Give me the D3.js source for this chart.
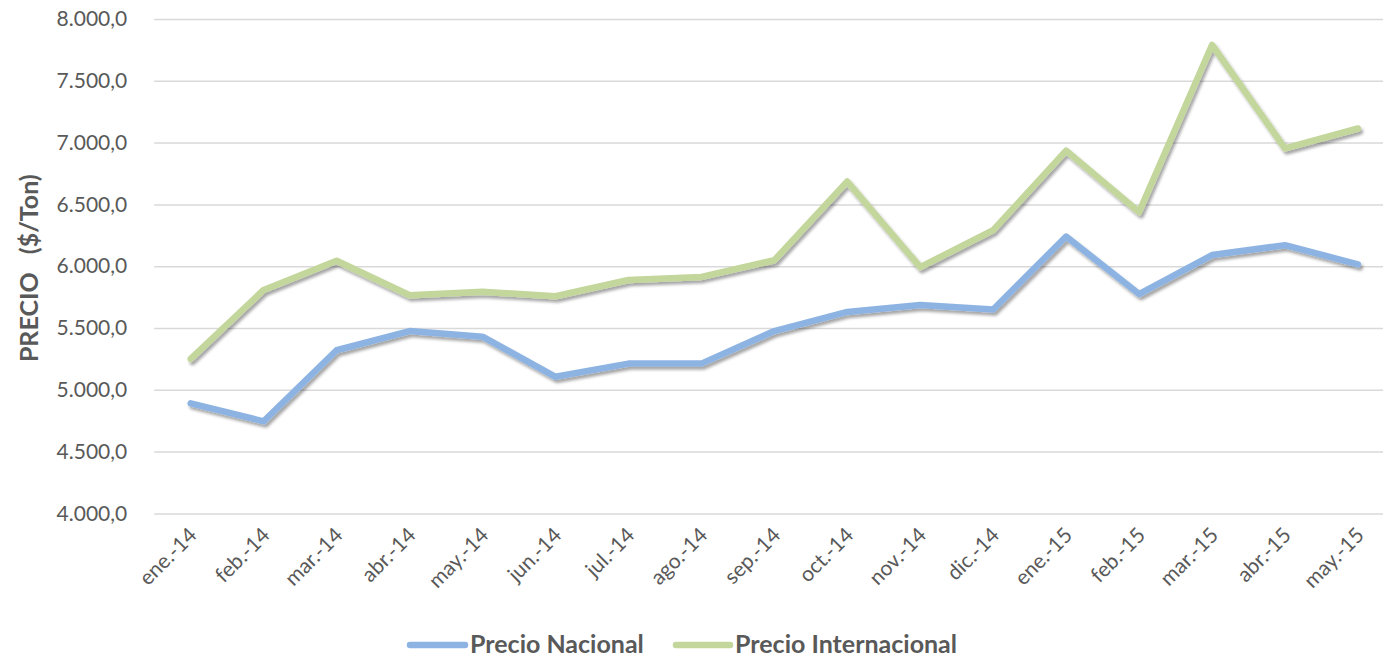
<!DOCTYPE html>
<html>
<head>
<meta charset="utf-8">
<script src="https://cdn.jsdelivr.net/npm/d3@7"></script>
<style>
  html, body { margin: 0; padding: 0; background: #fff; }
  svg { display: block; }
</style>
</head>
<body>
<svg id="chart" width="1383" height="658"></svg>
<script>
// ---- data ----
const categories = ["ene.-14","feb.-14","mar.-14","abr.-14","may.-14","jun.-14","jul.-14","ago.-14","sep.-14","oct.-14","nov.-14","dic.-14","ene.-15","feb.-15","mar.-15","abr.-15","may.-15"];
const precioNacional = [4890, 4745, 5320, 5475, 5430, 5105, 5212, 5212, 5475, 5630, 5686, 5650, 6240, 5775, 6090, 6170, 6015];
const precioInternacional = [5250, 5808, 6044, 5765, 5793, 5757, 5888, 5913, 6048, 6685, 5992, 6292, 6935, 6438, 7790, 6954, 7114];
const yTicks = [4000, 4500, 5000, 5500, 6000, 6500, 7000, 7500, 8000];
const seriesNames = ["Precio Nacional", "Precio Internacional"];
const seriesColors = ["#8db3e2", "#c3d69b"];
const yTitle = "PRECIO   ($/Ton)";

// ---- layout ----
const svg = d3.select("#chart");
const plotLeft = 154.2, plotRight = 1394.4, plotTop = 19, plotBottom = 513.4;
const textColor = "#595959";
const font = "Lato, 'Open Sans', sans-serif";

const x = d3.scalePoint().domain(categories).range([plotLeft, plotRight]).padding(0.5);
const y = d3.scaleLinear().domain([4000, 8000]).range([plotBottom, plotTop]);

const loc = d3.formatLocale({decimal: ",", thousands: ".", grouping: [3], currency: ["$", ""]});
const fmt = loc.format(",.1f");

// shadow filter
const defs = svg.append("defs");
const f = defs.append("filter").attr("id", "shadow").attr("x", "-5%").attr("y", "-20%").attr("width", "110%").attr("height", "140%");
f.append("feDropShadow").attr("dx", 2).attr("dy", 3).attr("stdDeviation", 1.6)
  .attr("flood-color", "#000").attr("flood-opacity", 0.35);

// gridlines + y axis
const yAxis = d3.axisLeft(y).tickValues(yTicks).tickFormat(fmt)
  .tickSize(-(1383 - plotLeft)).tickPadding(27);
const gy = svg.append("g").attr("transform", `translate(${plotLeft},0)`).call(yAxis);
gy.select(".domain").remove();
gy.selectAll(".tick line").attr("stroke", "#d9d9d9").attr("stroke-width", 1.5);
gy.selectAll(".tick text").attr("fill", textColor).style("font-family", font).style("font-size", "21px");

// x axis labels
const gx = svg.append("g").attr("transform", `translate(0,${plotBottom})`)
  .call(d3.axisBottom(x).tickSize(0).tickPadding(0));
gx.select(".domain").remove();
gx.selectAll(".tick text")
  .attr("fill", textColor).style("font-family", font).style("font-size", "21px")
  .attr("text-anchor", "end")
  .attr("dy", 0).attr("y", 0)
  .attr("transform", "translate(7,23) rotate(-45)");

// y title
svg.append("text")
  .attr("transform", `translate(38,${(plotTop + plotBottom) / 2 + 2}) rotate(-90)`)
  .attr("text-anchor", "middle")
  .attr("fill", textColor)
  .style("font-family", font).style("font-size", "25px").style("font-weight", "bold")
  .style("white-space", "pre")
  .attr("xml:space", "preserve")
  .text(yTitle);

// lines
const line = d3.line().x((d, i) => x(categories[i])).y(d => y(d));
[precioNacional, precioInternacional].forEach((data, k) => {
  svg.append("path")
    .datum(data)
    .attr("d", line)
    .attr("fill", "none")
    .attr("stroke", seriesColors[k])
    .attr("stroke-width", 6.5)
    .attr("stroke-linejoin", "round")
    .attr("stroke-linecap", "round")
    .attr("filter", "url(#shadow)");
});

// legend
const legendY = 644;
const legendItems = [{x0: 410, x1: 465, tx: 470}, {x0: 676, x1: 730, tx: 735}];
legendItems.forEach((it, k) => {
  svg.append("line").attr("x1", it.x0).attr("x2", it.x1).attr("y1", legendY + 1).attr("y2", legendY + 1)
    .attr("stroke", seriesColors[k]).attr("stroke-width", 6.5).attr("stroke-linecap", "round");
  svg.append("text").attr("x", it.tx).attr("y", legendY).attr("dy", "0.35em")
    .attr("fill", textColor)
    .style("font-family", font).style("font-size", "25px").style("font-weight", "bold")
    .text(seriesNames[k]);
});
</script>
</body>
</html>
